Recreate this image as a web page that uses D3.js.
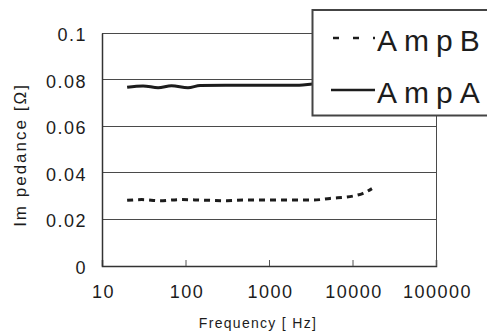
<!DOCTYPE html>
<html><head><meta charset="utf-8">
<script src="https://cdn.jsdelivr.net/npm/d3@7"></script>
<style>
html,body{margin:0;padding:0;background:#fff;}
svg{display:block;font-family:Arial,"Liberation Sans",sans-serif;}
</style></head>
<body><svg id="c" width="487" height="333"></svg>
<script>
const freqA = [20, 31, 47, 68, 107, 150, 300, 1000, 2300, 3300, 5000, 10000, 20000];
const ampA  = [0.0767, 0.0773, 0.0765, 0.0774, 0.0765, 0.0775, 0.0776, 0.0776, 0.0776, 0.0781, 0.0786, 0.0795, 0.0810];
const freqB = [20, 30, 50, 86, 150, 314, 500, 1000, 3365, 5370, 10140, 13400, 17100];
const ampB  = [0.0282, 0.0285, 0.0280, 0.0285, 0.0283, 0.0280, 0.0283, 0.0283, 0.0283, 0.0290, 0.0300, 0.0312, 0.0332];
const xTicks = [10, 100, 1000, 10000, 100000];
const yTicks = [0, 0.02, 0.04, 0.06, 0.08, 0.1];
const yTickLabels = ["0", "0.02", "0.04", "0.06", "0.08", "0.1"];
const seriesNames = ["AmpB", "AmpA"];

const svg = d3.select("#c");
const L = 102, R = 436, T = 33, B = 266;
const x = d3.scaleLog().domain([10, 100000]).range([L, R]);
const y = d3.scaleLinear().domain([0, 0.1]).range([B, T]);
const ink = "#1c1c1c";

// gridlines
svg.append("g").selectAll("line").data(yTicks.filter(d => d > 0)).join("line")
  .attr("x1", L).attr("x2", R).attr("y1", d => y(d)).attr("y2", d => y(d))
  .attr("stroke", "#4a4a4a").attr("stroke-width", 1).attr("shape-rendering", "crispEdges");

// right border
svg.append("line").attr("x1", R).attr("x2", R).attr("y1", T).attr("y2", B)
  .attr("stroke", "#4a4a4a").attr("stroke-width", 1).attr("shape-rendering", "crispEdges");

// axes
const xAxis = d3.axisBottom(x).tickValues(xTicks).tickSize(-6).tickFormat("");
const gx = svg.append("g").attr("transform", `translate(0,${B})`).call(xAxis);
gx.select(".domain").attr("stroke", "#333").attr("stroke-width", 1.5);
gx.selectAll(".tick line").attr("stroke", "#555");
const yAxis = d3.axisLeft(y).tickValues(yTicks).tickSize(0).tickFormat("");
const gy = svg.append("g").attr("transform", `translate(${L},0)`).call(yAxis);
gy.select(".domain").attr("stroke", "#333").attr("stroke-width", 1.5);

// tick labels
svg.append("g").selectAll("text").data(xTicks).join("text")
  .attr("x", d => x(d) + 1.5).attr("y", 297.5)
  .attr("text-anchor", "middle").attr("font-size", 18).attr("letter-spacing", 1.5)
  .attr("fill", ink).text(d => String(d));
svg.append("g").selectAll("text").data(yTicks).join("text")
  .attr("x", 87).attr("y", d => y(d) + 8)
  .attr("text-anchor", "end").attr("font-size", 18).attr("letter-spacing", 1.5)
  .attr("fill", ink).text((d, i) => yTickLabels[i]);

// axis titles
svg.append("text").attr("x", 258).attr("y", 328).attr("text-anchor", "middle")
  .attr("font-size", 14).attr("letter-spacing", 1.3).attr("fill", ink).text("Frequency [ Hz]");
svg.append("text").attr("transform", "translate(26,155) rotate(-90)").attr("text-anchor", "middle")
  .attr("font-size", 17).attr("letter-spacing", 2).attr("fill", ink).text("Im pedance [Ω]");

// lines
const line = d3.line().x(d => x(d[0])).y(d => y(d[1])).curve(d3.curveMonotoneX);
svg.append("path").datum(freqA.map((f, i) => [f, ampA[i]]))
  .attr("d", line).attr("fill", "none").attr("stroke", ink).attr("stroke-width", 3);
svg.append("path").datum(freqB.map((f, i) => [f, ampB[i]]))
  .attr("d", line).attr("fill", "none").attr("stroke", ink).attr("stroke-width", 3)
  .attr("stroke-dasharray", "6,5");

// legend
const lg = svg.append("g");
lg.append("rect").attr("x", 312.5).attr("y", 10).attr("width", 200).attr("height", 105.5)
  .attr("fill", "#fff").attr("stroke", "#444").attr("stroke-width", 2);
const rows = [
  {name: seriesNames[0], dash: "6,14", x1: 333, yy: 38},
  {name: seriesNames[1], dash: null, x1: 331, yy: 90}
];
rows.forEach(r => {
  const l = lg.append("line").attr("x1", r.x1).attr("x2", 375).attr("y1", r.yy).attr("y2", r.yy)
    .attr("stroke", ink).attr("stroke-width", r.dash ? 2.6 : 2.6);
  if (r.dash) l.attr("stroke-dasharray", r.dash);
  lg.append("text").attr("x", 377).attr("y", r.yy + 13).attr("font-size", 30)
    .attr("letter-spacing", 7).attr("fill", ink).text(r.name);
});
</script></body></html>
